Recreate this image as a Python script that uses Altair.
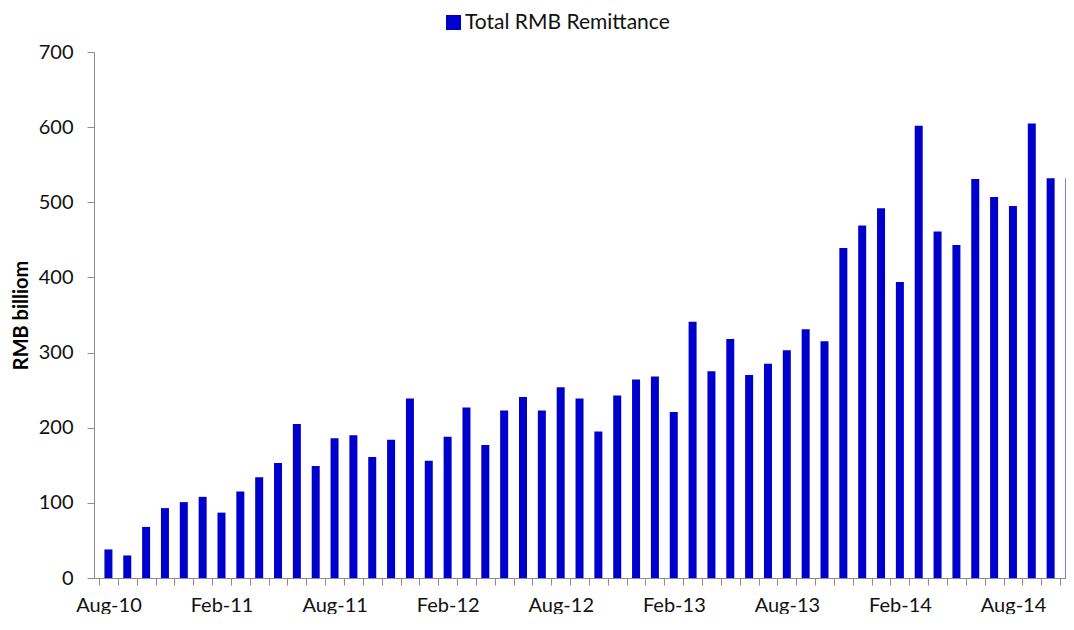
import json
import altair as alt
import pandas as pd

months = [
    "Aug-10", "Sep-10", "Oct-10", "Nov-10", "Dec-10", "Jan-11", "Feb-11", "Mar-11",
    "Apr-11", "May-11", "Jun-11", "Jul-11", "Aug-11", "Sep-11", "Oct-11", "Nov-11",
    "Dec-11", "Jan-12", "Feb-12", "Mar-12", "Apr-12", "May-12", "Jun-12", "Jul-12",
    "Aug-12", "Sep-12", "Oct-12", "Nov-12", "Dec-12", "Jan-13", "Feb-13", "Mar-13",
    "Apr-13", "May-13", "Jun-13", "Jul-13", "Aug-13", "Sep-13", "Oct-13", "Nov-13",
    "Dec-13", "Jan-14", "Feb-14", "Mar-14", "Apr-14", "May-14", "Jun-14", "Jul-14",
    "Aug-14", "Sep-14", "Oct-14", "Nov-14",
]
remittance = [
    38, 30, 68, 93, 101, 108, 87, 115,
    134, 153, 205, 149, 186, 190, 161, 184,
    239, 156, 188, 227, 177, 223, 241, 223,
    254, 239, 195, 243, 264, 268, 221, 341,
    275, 318, 270, 285, 303, 331, 315, 439,
    469, 492, 394, 602, 461, 443, 531, 507,
    495, 605, 532, 532,
]
tick_labels = ["Aug-10", "Feb-11", "Aug-11", "Feb-12", "Aug-12", "Feb-13", "Aug-13", "Feb-14", "Aug-14"]
y_ticks = [0, 100, 200, 300, 400, 500, 600, 700]
series_name = "Total RMB Remittance"

df = pd.DataFrame({
    "idx": list(range(len(months))),
    "month": months,
    "value": remittance,
    "series": [series_name] * len(months),
})

boundaries = [i - 0.5 for i in range(len(months))]
label_expr = (
    "(datum.value + 0.5) % 6 == 0 ? (" + json.dumps(tick_labels)
    + "[(datum.value + 0.5) / 6] || '') : ''"
)

FONT = "Lato"
FS = 20

chart = alt.Chart(df).mark_bar(size=8, clip=True).encode(
    x=alt.X(
        "idx:Q",
        scale=alt.Scale(domain=[-0.5, 50.55], nice=False, zero=False),
        axis=alt.Axis(
            title=None,
            values=boundaries,
            labelExpr=label_expr,
            labelOffset=9.5,
            labelOverlap=False,
            labelFlush=False,
            labelBound=False,
            tickSize=7,
            labelPadding=10,
            grid=False,
            domainColor="#8c8c8c",
            tickColor="#8c8c8c",
            labelFont=FONT,
            labelFontSize=FS,
            labelColor="#111111",
        ),
    ),
    y=alt.Y(
        "value:Q",
        scale=alt.Scale(domain=[0, 700], nice=False),
        axis=alt.Axis(
            title="RMB billiom",
            values=y_ticks,
            tickSize=7,
            labelPadding=14,
            grid=False,
            domainColor="#8c8c8c",
            tickColor="#8c8c8c",
            labelFont=FONT,
            labelFontSize=FS,
            labelColor="#111111",
            titleFont=FONT,
            titleFontSize=20,
            titleFontWeight="bold",
            titleColor="#000000",
            titleX=-73,
            titleY=263,
            titleBaseline="middle",
            titleAngle=270,
        ),
    ),
    color=alt.Color(
        "series:N",
        scale=alt.Scale(domain=[series_name], range=["#0000CC"]),
        legend=alt.Legend(
            title=None,
            orient="none",
            legendX=349,
            legendY=-40,
            padding=0,
            symbolType="square",
            symbolSize=225,
            symbolStrokeWidth=0,
            labelFont=FONT,
            labelFontSize=21,
            labelColor="#111111",
            labelOffset=1,
            labelLimit=0,
        ),
    ),
).properties(
    width=972,
    height=526,
    autosize=alt.AutoSizeParams(type="none"),
    padding={"left": 86, "top": 44, "right": 0, "bottom": 36},
    background="white",
).configure_view(stroke=None)

chart.save("out.html", embed_options={"renderer": "svg", "actions": False})
